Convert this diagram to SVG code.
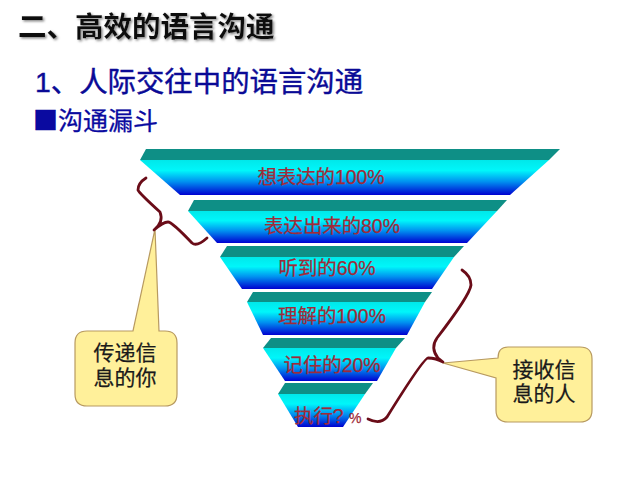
<svg xmlns="http://www.w3.org/2000/svg" width="640" height="480" viewBox="0 0 640 480">
<defs>
<linearGradient id="g" x1="0" y1="0" x2="0" y2="1">
<stop offset="0" stop-color="#00e8ea"/><stop offset="0.3" stop-color="#00f6fa"/><stop offset="0.62" stop-color="#0090f0"/><stop offset="1" stop-color="#0000d0"/>
</linearGradient>
<filter id="sh" x="-5%" y="-20%" width="110%" height="140%"><feDropShadow dx="1.5" dy="1.5" stdDeviation="0.8" flood-color="#888888"/></filter>
</defs>
<style>
text{font-family:"Liberation Sans","Noto Sans CJK SC",sans-serif}
.top{fill:#0e8f86}
.front{fill:url(#g)}
.lab{font-size:19.4px;fill:#a02a38;stroke:#a02a38;stroke-width:0.25;text-anchor:middle}
.call{fill:#fff09a;stroke:#b89a60;stroke-width:1.2}
.ct{font-size:21px;fill:#1a1a1a;stroke:#1a1a1a;stroke-width:0.25;text-anchor:middle}
.br{fill:none;stroke:#6a0c18;stroke-width:2.8;stroke-linecap:round;stroke-linejoin:round}
</style>
<rect width="640" height="480" fill="#ffffff"/>
<g id="headings">
<text x="18" y="37" font-size="28.5" font-weight="bold" fill="#111111" filter="url(#sh)">二、高效的语言沟通</text>
<text x="35" y="92" font-size="28.4" fill="#0a0a96" stroke="#0a0a96" stroke-width="0.4">1、人际交往中的语言沟通</text>
<text x="33" y="130" font-size="25" fill="#0a0aa0" stroke="#0a0aa0" stroke-width="0.3" style="font-family:'Noto Sans CJK SC',sans-serif">■沟通漏斗</text>
</g>
<g id="tier1">
<polygon class="top" points="146,149 560,149 549,160 140,160"/>
<polygon class="front" points="140,160 549,160 510,195 180,195"/>
<text class="lab" x="321" y="184">想表达的100%</text>
</g>
<g id="tier2">
<polygon class="top" points="194,200 507,200 497,211 188,211"/>
<polygon class="front" points="188,211 497,211 467,243 217,243"/>
<text class="lab" x="332" y="233">表达出来的80%</text>
</g>
<g id="tier3">
<polygon class="top" points="227,246 464,246 454,257 220,257"/>
<polygon class="front" points="220,257 454,257 432,289 242,289"/>
<text class="lab" x="327" y="275">听到的60%</text>
</g>
<g id="tier4">
<polygon class="top" points="253,292 432,292 425,302 247,302"/>
<polygon class="front" points="247,302 425,302 407,335 263,335"/>
<text class="lab" x="332" y="323">理解的100%</text>
</g>
<g id="tier5">
<polygon class="top" points="271,338 405,338 396,348 263,348"/>
<polygon class="front" points="263,348 396,348 377,381 285,381"/>
<text class="lab" x="332" y="372">记住的20%</text>
</g>
<g id="tier6">
<polygon class="top" points="285,383 373,383 365,394 278,394"/>
<polygon class="front" points="278,394 365,394 343,427 298,427"/>
<text class="lab" x="294" y="423" style="text-anchor:start">执行? <tspan font-size="14">%</tspan></text>
</g>
<g id="callout-left">
<path class="call" d="M87,331H133L155,229L159,331H165Q177,331 177,343V394Q177,406 165,406H87Q75,406 75,394V343Q75,331 87,331Z"/>
<text class="ct" x="125" y="360">传递信</text>
<text class="ct" x="125" y="385">息的你</text>
</g>
<g id="callout-right">
<path class="call" d="M508,347H580Q592,347 592,359V410Q592,422 580,422H508Q496,422 496,410V378L443,363L498,358Q498,347 508,347Z"/>
<text class="ct" x="544" y="377">接收信</text>
<text class="ct" x="544" y="401">息的人</text>
</g>
<g id="connectors">
<path class="br" d="M146,178Q138,183 138,190Q139,193 160,212Q164,222 154,230Q163,222 168,222Q172,222 192,243Q197,247 207,238"/>
<path class="br" d="M462,270Q471,276 471,285Q470,295 437,338Q430,348 438,358L443,362Q436,358 428,358Q423,359 387,417Q380,425 368,419"/>
</g>
</svg>
